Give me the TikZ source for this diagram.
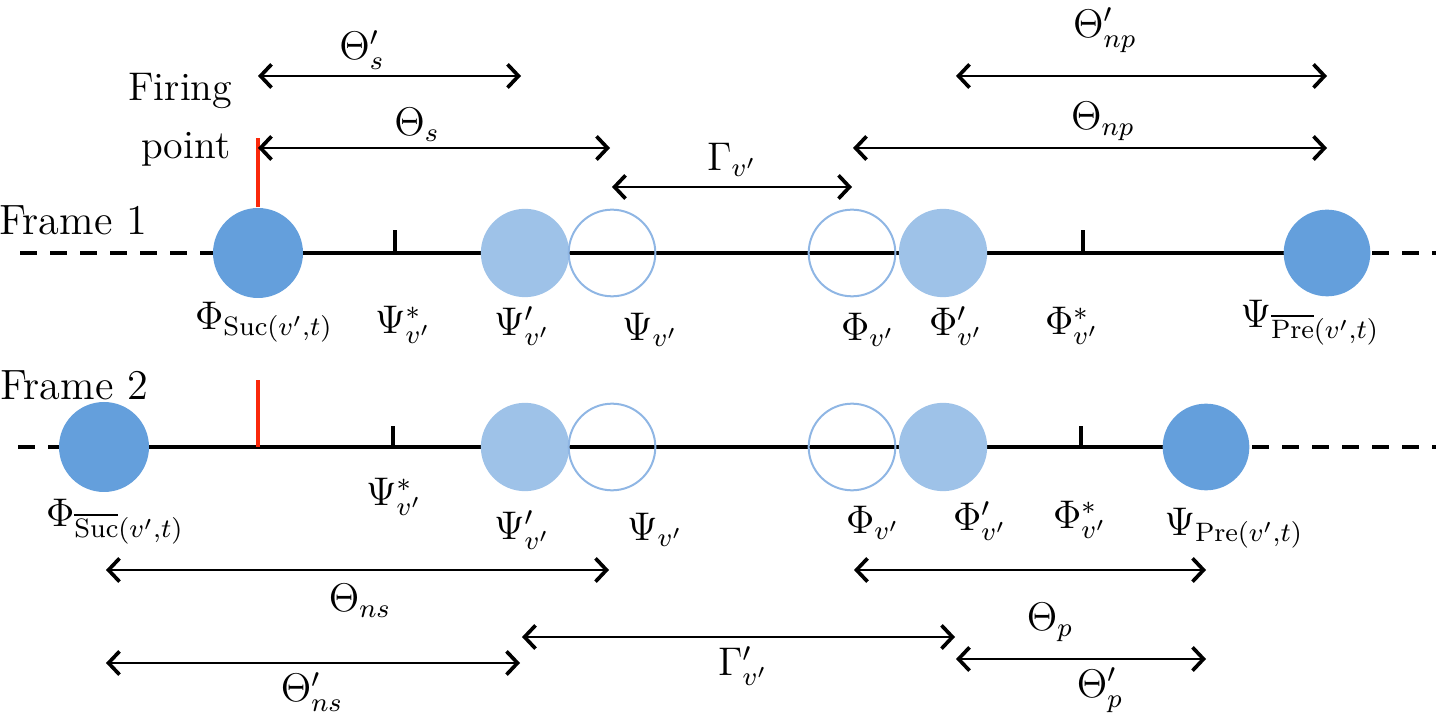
\documentclass[tikz,border=0pt]{standalone}
\usetikzlibrary{arrows.meta}
\definecolor{dkblue}{RGB}{100,159,220}
\definecolor{ltblue}{RGB}{158,194,232}
\definecolor{olblue}{RGB}{143,182,228}
\definecolor{firered}{RGB}{250,40,10}
\begin{document}
\begin{tikzpicture}[x=0.3pt,y=-0.3pt,
  tipb/.tip={Straight Barb[length=3.3pt,width=7pt,line width=1.1pt]},
  dim/.style={line width=0.55pt,arrows={tipb-tipb}},
  axis/.style={line width=1.2pt},
  dashaxis/.style={line width=1.2pt,dash pattern=on 5pt off 4pt},
  darkball/.style={circle,fill=dkblue,minimum size=27pt,inner sep=0pt},
  lightball/.style={circle,fill=ltblue,minimum size=26.5pt,inner sep=0pt},
  openball/.style={circle,draw=olblue,line width=0.6pt,minimum size=26pt,inner sep=0pt},
  tickmark/.style={line width=1.2pt},
  fire/.style={firered,line width=1.1pt},
  lab/.style={inner sep=0pt,font=\large},
  frame/.style={inner sep=0pt,font=\fontsize{12.7}{15}\selectfont}]
\useasboundingbox (0,0) rectangle (1436,721);

% ---------- Frame 1 ----------
\coordinate (f1l) at (20,253);
\coordinate (f1r) at (1436,253);
\node[frame] (fr1) at (73,220) {Frame 1};
\node[lab,anchor=base east] (firing) at (233,101) {Firing};
\node[lab,anchor=base east] (point) at (231,159) {point};

\draw[axis] (258,253) -- (1327,253);
\draw[dashaxis] (f1l) -- (213,253);
\draw[dashaxis] (1372,253) -- (f1r);

\node[darkball] (a1) at (258,253) {};
\node[lightball] (a2) at (525,253) {};
\node[openball] (a3) at (612,253) {};
\node[openball] (a4) at (852,253) {};
\node[lightball] (a5) at (943,253) {};
\node[darkball,minimum size=26pt] (a6) at (1327,253) {};
\coordinate (t1a) at (395,253);
\coordinate (t1b) at (1083,253);
\draw[tickmark] (t1a) -- ++(0,-23);
\draw[tickmark] (t1b) -- ++(0,-23);
\coordinate (fire1) at (258,138);
\draw[fire] (a1.north) -- (fire1);

\node[lab] (l1a) at (264,322) {$\Phi_{\mathrm{Suc}(v',t)}$};
\node[lab] (l1b) at (403,325) {$\Psi^*_{v'}$};
\node[lab] (l1c) at (522,326) {$\Psi'_{v'}$};
\node[lab] (l1d) at (650,330) {$\Psi_{v'}$};
\node[lab] (l1e) at (868,330) {$\Phi_{v'}$};
\node[lab] (l1f) at (956,326) {$\Phi'_{v'}$};
\node[lab] (l1g) at (1072,326) {$\Phi^*_{v'}$};
\node[lab] (l1h) at (1310,323) {$\Psi_{\overline{\mathrm{Pre}}(v',t)}$};

% ---------- Frame 2 ----------
\coordinate (f2l) at (18,447);
\coordinate (f2r) at (1436,447);
\node[frame] (fr2) at (74,385) {Frame 2};

\draw[axis] (104,447) -- (1205,447);
\draw[dashaxis] (f2l) -- (60,447);
\draw[dashaxis] (1252,447) -- (f2r);

\node[darkball] (b1) at (104,447) {};
\node[lightball] (b2) at (525,447) {};
\node[openball] (b3) at (612,447) {};
\node[openball] (b4) at (852,447) {};
\node[lightball] (b5) at (943,447) {};
\node[darkball,minimum size=26pt] (b6) at (1206,447) {};
\coordinate (t2a) at (393,447);
\coordinate (t2b) at (1081,447);
\draw[tickmark] (t2a) -- ++(0,-21);
\draw[tickmark] (t2b) -- ++(0,-21);
\coordinate (fire2b) at (258,447);
\coordinate (fire2) at (258,380);
\draw[fire] (fire2b) -- (fire2);

\node[lab] (l2a) at (115,522) {$\Phi_{\overline{\mathrm{Suc}}(v',t)}$};
\node[lab] (l2b) at (394,497) {$\Psi^*_{v'}$};
\node[lab] (l2c) at (522,530) {$\Psi'_{v'}$};
\node[lab] (l2d) at (655,530) {$\Psi_{v'}$};
\node[lab] (l2e) at (873,523) {$\Phi_{v'}$};
\node[lab] (l2f) at (980,521) {$\Phi'_{v'}$};
\node[lab] (l2g) at (1080,520) {$\Phi^*_{v'}$};
\node[lab] (l2h) at (1234,528) {$\Psi_{\mathrm{Pre}(v',t)}$};

% ---------- top dimension arrows ----------
\coordinate (ds1) at (258,76);  \coordinate (ds2) at (521,76);
\draw[dim] (ds1) -- (ds2);
\node[lab] (lds) at (362,50) {$\Theta'_s$};

\coordinate (es1) at (258,148); \coordinate (es2) at (610,148);
\draw[dim] (es1) -- (es2);
\node[lab] (les) at (417,125) {$\Theta_s$};

\coordinate (g1) at (612,187); \coordinate (g2) at (852,187);
\draw[dim] (g1) -- (g2);
\node[lab] (lg) at (732,160) {$\Gamma_{v'}$};

\coordinate (np1) at (956,76); \coordinate (np2) at (1327,76);
\draw[dim] (np1) -- (np2);
\node[lab] (lnp1) at (1105,30) {$\Theta'_{np}$};

\coordinate (mp1) at (853,148); \coordinate (mp2) at (1327,148);
\draw[dim] (mp1) -- (mp2);
\node[lab] (lnp) at (1103,121) {$\Theta_{np}$};

% ---------- bottom dimension arrows ----------
\coordinate (ns1) at (106,570); \coordinate (ns2) at (609,570);
\draw[dim] (ns1) -- (ns2);
\node[lab] (lns) at (360,601) {$\Theta_{ns}$};

\coordinate (gg1) at (522,637); \coordinate (gg2) at (955,637);
\draw[dim] (gg1) -- (gg2);
\node[lab] (lgg) at (743,666) {$\Gamma'_{v'}$};

\coordinate (os1) at (106,663); \coordinate (os2) at (520,663);
\draw[dim] (os1) -- (os2);
\node[lab] (los) at (312,692) {$\Theta'_{ns}$};

\coordinate (p1) at (854,570); \coordinate (p2) at (1206,570);
\draw[dim] (p1) -- (p2);
\node[lab] (lp) at (1050,622) {$\Theta_p$};

\coordinate (q1) at (956,659); \coordinate (q2) at (1206,659);
\draw[dim] (q1) -- (q2);
\node[lab] (lq) at (1100,690) {$\Theta'_p$};
\end{tikzpicture}
\end{document}
